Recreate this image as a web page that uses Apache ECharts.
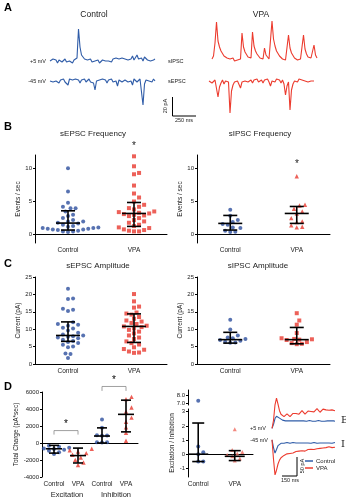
<!DOCTYPE html>
<html><head><meta charset="utf-8">
<script src="https://cdn.jsdelivr.net/npm/echarts@6/dist/echarts.min.js"></script>
<style>html,body{margin:0;padding:0;background:#fff}#c{width:346px;height:500px}</style>
</head><body><div id="c"></div>
<script>
// ---------- DATA ----------
const groups = ['Control', 'VPA'];
const chargeCats = ['Control', 'VPA', 'Control', 'VPA'];
const groupNames = ['Excitation', 'Inhibition'];
// Panel A traces (pA, 15 ms sampling)
const traceStepA = 15;
const ctrlIPSC = [0,-1,2,0,1,-2,1,3,-1,0,2,-1,1,0,2,-2,1,0,3,32,14,6,4,2,3,1,0,2,-1,1,0,-1,1,-2,0,1,-1,0,2,0,1,-1,2,0,3,1,2,0,3,1,2,4,1,3,2,5,1,3,6,2,1,3,0,4,2,1,3,0,2,1,2];
const ctrlEPSC = [0,2,-1,1,0,2,-2,1,0,2,-1,1,-4,2,0,1,-1,2,0,1,-2,1,0,2,-1,0,2,-1,1,-2,-9,0,2,1,-1,2,0,1,-2,1,0,2,-1,1,0,-5,1,2,-1,0,1,2,-1,1,0,-4,2,1,-1,0,2,1,-24,-3,1,2,0,1,-1,2,0];
const vpaIPSC = [2,5,18,39,20,14,10,8,5,6,3,4,2,1,3,0,2,1,-1,2,28,14,9,7,4,5,3,29,15,10,7,5,3,4,2,13,6,4,2,3,40,22,15,10,8,5,4,2,3,1,2,26,13,8,6,3,4,1,0,2,1,26,12,7,4,2,3,1,16,6,3];
const vpaEPSC = [0,1,-2,-4,1,-1,-16,-6,-2,1,-3,0,2,-1,-32,-10,-4,-1,1,0,-2,-7,-1,1,0,2,-1,0,1,-2,1,0,2,-1,0,1,-2,1,0,2,-1,-5,0,1,-1,2,0,1,-2,1,-3,-14,-5,-1,-29,-9,-3,0,1,-1,2,0,1,-1,0,2,-1,1,0,1,0];
// Panel B
const sepscFreqCtrl = [10.0,6.5,4.8,4.2,4.0,4.0,3.5,3.0,2.8,2.5,2.2,2.0,2.0,1.8,1.7,1.5,1.3,1.2,1.1,1.0,1.0,0.9,0.9,0.8,0.8,0.7,0.6,0.5,0.5,0.4];
const sepscFreqVpa = [11.8,10.3,9.3,9.1,7.4,6.2,5.6,5.0,4.5,4.2,4.0,3.8,3.5,3.4,3.3,3.2,3.1,3.0,2.9,2.8,2.5,2.2,2.0,1.8,1.5,1.3,1.1,1.0,0.8,0.7,0.6,0.5,0.5];
const sepscFreqStats = [[1.75,0.7,3.6],[3.2,1.25,4.85]];
const sipscFreqCtrl = [3.75,2.85,2.2,1.9,1.6,1.5,1.1,1.0,0.6,0.45,0.4];
const sipscFreqVpa = [8.8,4.5,4.4,3.9,3.5,3.2,2.5,2.0,1.9,1.4,1.2,1.1];
const sipscFreqStats = [[1.7,0.7,2.9],[3.2,1.7,4.25]];
// Panel C
const sepscAmpCtrl = [21.6,18.8,18.7,15.9,15.6,15.2,12.0,11.5,11.3,11.0,10.4,10.2,9.6,9.0,8.5,8.2,8.0,7.8,7.6,7.4,7.0,6.6,6.3,6.0,5.5,5.0,4.8,3.0,2.9,1.7];
const sepscAmpVpa = [20.1,18.0,16.5,16.2,14.8,14.5,14.2,13.5,13.0,12.5,12.2,11.8,11.5,11.0,10.8,10.6,10.2,9.8,9.3,8.8,8.2,7.6,7.2,6.5,6.0,5.6,4.8,4.3,4.1,3.6,3.3,3.2];
const sepscAmpStats = [[8.2,6.5,12.1],[10.8,6.2,14.4]];
const sipscAmpCtrl = [12.7,9.9,8.2,7.6,7.4,7.2,6.9,6.7,6.4,6.2,6.1];
const sipscAmpVpa = [14.6,12.5,11.3,8.9,7.4,7.2,7.1,7.0,6.9,6.3,6.0,5.8,5.7];
const sipscAmpStats = [[7.0,6.0,9.1],[7.0,5.8,10.5]];
// Panel D
const excCtrl = [-320,-450,-550,-650,-700,-800,-900,-1100,-1300];
const excVpa = [-680,-850,-1000,-1190,-1390,-1710,-1990,-2300,-2580];
const inhCtrl = [2770,1780,870,900,850,80,60,90];
const inhVpa = [5430,5160,4170,3690,2980,2500,1860,1190,270];
const chargeStats = [[-680,-1190,-280],[-1480,-2350,-600],[820,0,1780],[3370,1310,5040]];
const eiCtrlHigh = [7.3];
const eiCtrl = [0.54,0.14,0.0,-0.52,-0.52];
const eiVpa = [1.76,0.3,0.15,0.05,-0.05,-0.15,-0.3,-0.45];
const eiStats = [[0.0,-0.52,2.2],[-0.15,-0.45,0.25]];
// Panel D traces (pA, 15 ms sampling)
const traceStepD = 15;
const eVpa = [0,20,60,77,62,45,36,32,30,33,37,34,30,32,38,42,38,34,36,41,45,40,36,39,44,48,43,39,42,47,50,45,41,44,49,52,47,43,46,50,47,44,45];
const eCtrl = [0,10,25,31,29,26,23,21,20,19,20,19,18,19,20,19,18,19,18,19,20,19,18,18,19,20,19,18,19,18,19,20,19,18,19,18,19,19,18,19,20,19,18];
const iVpa = [0,-50,-90,-78,-62,-52,-46,-42,-40,-38,-36,-37,-35,-33,-34,-32,-30,-31,-29,-30,-28,-27,-29,-26,-25,-27,-24,-23,-25,-22,-23,-21,-22,-20,-21,-19,-20,-21,-18,-19,-20,-18,-19];
const iCtrl = [0,-20,-34,-25,-15,-11,-9,-8,-9,-8,-7,-8,-9,-8,-7,-8,-8,-9,-8,-7,-8,-9,-8,-7,-8,-8,-9,-8,-7,-8,-9,-8,-8,-7,-8,-9,-8,-7,-8,-8,-9,-8,-7];

// ---------- STYLE ----------
const FONT = 'Liberation Sans, Arial, sans-serif';
const BLUE = '#2d4f9e', RED = '#e8392f', TBLUE = '#2f5ca8', TRED = '#ec3b2e';
const TXT = '#222';

const chart = echarts.init(document.getElementById('c'), null, {renderer: 'canvas'});

function swarm(vals, pxPerUnit, d) {
  const placed = [], offs = new Array(vals.length);
  const order = vals.map((v, i) => i).sort((a, b) => vals[a] - vals[b]);
  for (const i of order) {
    const y = vals[i] * pxPerUnit;
    let best = 0;
    for (let k = 0; k < 60; k++) {
      const cand = k === 0 ? 0 : (k % 2 ? 1 : -1) * Math.ceil(k / 2) * d * 0.55;
      if (placed.every(p => Math.hypot(p.x - cand, p.y - y) >= d * 1.05)) { best = cand; break; }
    }
    placed.push({x: best, y}); offs[i] = best;
  }
  return offs;
}
function scatterSeries(vals, cat, grid, pxPerUnit, symbol, size, color, yIdx) {
  const offs = swarm(vals, pxPerUnit, size + 0.6);
  return {
    type: 'scatter', xAxisIndex: grid, yAxisIndex: yIdx === undefined ? grid : yIdx,
    symbol, symbolSize: size, itemStyle: {color}, silent: true, z: 2,
    data: vals.map((v, i) => ({value: [cat, v], symbolOffset: [offs[i], 0]}))
  };
}
function errSeries(stats, grid, cats, w, cw, yIdx) {
  return {
    type: 'custom', xAxisIndex: grid, yAxisIndex: yIdx === undefined ? grid : yIdx, z: 5, silent: true,
    data: stats.map((s, i) => [cats[i], s[0], s[1], s[2]]),
    renderItem(params, api) {
      const c = api.coord([api.value(0), api.value(1)]);
      const lo = api.coord([api.value(0), api.value(2)]);
      const hi = api.coord([api.value(0), api.value(3)]);
      const st = {stroke: '#000', lineWidth: 1.6};
      return {type: 'group', children: [
        {type: 'line', shape: {x1: c[0], y1: lo[1], x2: c[0], y2: hi[1]}, style: st},
        {type: 'line', shape: {x1: c[0] - w, y1: c[1], x2: c[0] + w, y2: c[1]}, style: st},
        {type: 'line', shape: {x1: c[0] - cw, y1: lo[1], x2: c[0] + cw, y2: lo[1]}, style: st},
        {type: 'line', shape: {x1: c[0] - cw, y1: hi[1], x2: c[0] + cw, y2: hi[1]}, style: st}
      ]};
    }
  };
}
function traceSeries(vals, step, grid, color, name) {
  return {type: 'line', name, xAxisIndex: grid, yAxisIndex: grid, showSymbol: false, silent: true,
    lineStyle: {color, width: 1.1}, itemStyle: {color}, animation: false,
    data: vals.map((v, i) => [i * step, v])};
}

const axLine = {lineStyle: {color: '#000', width: 1}};
const lbl = {fontSize: 6, color: TXT, fontFamily: FONT, margin: 3};
function catX(grid) {
  return {type: 'category', gridIndex: grid, data: groups, axisLine: axLine,
    axisTick: {alignWithLabel: true, length: 2, lineStyle: {color: '#000'}},
    axisLabel: Object.assign({}, lbl, {fontSize: 6.5, margin: 4, interval: 0})};
}
function valY(grid, min, max, ticks, name, gap, fmt) {
  return {type: 'value', gridIndex: grid, min, max, splitLine: {show: false},
    axisLine: {show: true, lineStyle: {color: '#000', width: 1}},
    axisTick: {show: true, length: 2, customValues: ticks, lineStyle: {color: '#000'}},
    axisLabel: Object.assign({}, lbl, {customValues: ticks, formatter: fmt || (v => String(v))}),
    name, nameLocation: 'middle', nameGap: gap || 14,
    nameTextStyle: {fontSize: 6.5, color: TXT, fontFamily: FONT}};
}
function hidX(grid, max) { return {type: 'value', gridIndex: grid, min: 0, max, show: false}; }
function hidY(grid, min, max) { return {type: 'value', gridIndex: grid, min, max, show: false}; }

const grids = [
  {left: 50, top: 20, width: 105, height: 50},   // 0 A ctrl IPSC
  {left: 50, top: 70, width: 105, height: 45},   // 1 A ctrl EPSC
  {left: 212, top: 20, width: 106, height: 50},  // 2 A vpa IPSC
  {left: 209, top: 70, width: 106, height: 45},  // 3 A vpa EPSC
  {left: 35, top: 155, width: 132, height: 88},  // 4 B left
  {left: 197, top: 155, width: 133, height: 88}, // 5 B right
  {left: 35, top: 277, width: 132, height: 87},  // 6 C left
  {left: 197, top: 277, width: 133, height: 87}, // 7 C right
  {left: 42, top: 392, width: 96, height: 85},   // 8 D left
  {left: 188, top: 390, width: 65, height: 15},  // 9 D mid upper
  {left: 188, top: 409, width: 65, height: 68},  // 10 D mid lower
  {left: 272, top: 395, width: 63, height: 40},  // 11 D E traces
  {left: 272, top: 432, width: 63, height: 48}   // 12 D I traces
];

const xAxes = [
  hidX(0, 1050), hidX(1, 1050), hidX(2, 1060), hidX(3, 1060),
  catX(4), catX(5), catX(6), catX(7),
  Object.assign(catX(8), {data: chargeCats}),
  {type: 'value', gridIndex: 9, min: 0.72, max: 2.5, show: false},
  {type: 'value', gridIndex: 10, min: 0.72, max: 2.5, splitLine: {show: false}, axisLine: axLine,
    axisTick: {show: true, length: 2, customValues: [1, 2], lineStyle: {color: '#000'}},
    axisLabel: Object.assign({}, lbl, {fontSize: 6.5, margin: 4, customValues: [1, 2], formatter: v => groups[Math.round(v) - 1]})},
  hidX(11, 630), hidX(12, 630)
];
const yAxes = [
  hidY(0, -9, 41), hidY(1, -34, 11), hidY(2, -9, 41), hidY(3, -34, 11),
  valY(4, -1.25, 12, [0, 5, 10], 'Events / sec', 13),
  valY(5, -1.25, 12, [0, 5, 10], 'Events / sec', 13),
  valY(6, 0, 25, [0, 5, 10, 15, 20, 25], 'Current (pA)', 13),
  valY(7, 0, 25, [0, 5, 10, 15, 20, 25], 'Current (pA)', 13),
  valY(8, -4000, 6000, [-4000, -2000, 0, 2000, 4000, 6000], 'Total Charge (pA*sec)', 22),
  valY(9, 6.8, 8.6, [7, 8, 8.5], '', 10, v => v.toFixed(1)),
  valY(10, -1.61, 3.19, [-1, 0, 1, 2, 3], 'Excitation / Inhibition', 11),
  hidY(11, -17, 85), hidY(12, -103, 20)
];

const pB = 88 / 13.25, pC = 87 / 25, pD = 85 / 10000, pE = 68 / 4.8;
const SZ = 4;
const series = [
  traceSeries(ctrlIPSC, traceStepA, 0, TBLUE, 'a1'),
  traceSeries(ctrlEPSC, traceStepA, 1, TBLUE, 'a2'),
  traceSeries(vpaIPSC, traceStepA, 2, TRED, 'a3'),
  traceSeries(vpaEPSC, traceStepA, 3, TRED, 'a4'),
  scatterSeries(sepscFreqCtrl, 0, 4, pB, 'circle', SZ, BLUE),
  scatterSeries(sepscFreqVpa, 1, 4, pB, 'rect', SZ, RED),
  errSeries(sepscFreqStats, 4, [0, 1], 12, 7),
  scatterSeries(sipscFreqCtrl, 0, 5, pB, 'circle', SZ, BLUE),
  scatterSeries(sipscFreqVpa, 1, 5, pB, 'triangle', 4.4, RED),
  errSeries(sipscFreqStats, 5, [0, 1], 12, 7),
  scatterSeries(sepscAmpCtrl, 0, 6, pC, 'circle', SZ, BLUE),
  scatterSeries(sepscAmpVpa, 1, 6, pC, 'rect', SZ, RED),
  errSeries(sepscAmpStats, 6, [0, 1], 12, 7),
  scatterSeries(sipscAmpCtrl, 0, 7, pC, 'circle', SZ, BLUE),
  scatterSeries(sipscAmpVpa, 1, 7, pC, 'rect', SZ, RED),
  errSeries(sipscAmpStats, 7, [0, 1], 12, 7),
  scatterSeries(excCtrl, 0, 8, pD, 'circle', SZ, BLUE),
  scatterSeries(excVpa, 1, 8, pD, 'triangle', 4.4, RED),
  scatterSeries(inhCtrl, 2, 8, pD, 'circle', SZ, BLUE),
  scatterSeries(inhVpa, 3, 8, pD, 'triangle', 4.4, RED),
  errSeries(chargeStats, 8, [0, 1, 2, 3], 8, 5),
  {
    type: 'custom', xAxisIndex: 8, yAxisIndex: 8, clip: false, silent: true, z: 6,
    data: [[0, 1, 1460, 990], [2, 3, 6650, 6130]],
    renderItem(params, api) {
      const a = api.coord([api.value(0), api.value(2)]);
      const b = api.coord([api.value(1), api.value(2)]);
      const d = api.coord([api.value(0), api.value(3)]);
      const st = {stroke: '#888', lineWidth: 0.8};
      return {type: 'group', children: [
        {type: 'line', shape: {x1: a[0], y1: a[1], x2: b[0], y2: b[1]}, style: st},
        {type: 'line', shape: {x1: a[0], y1: a[1], x2: a[0], y2: d[1]}, style: st},
        {type: 'line', shape: {x1: b[0], y1: b[1], x2: b[0], y2: d[1]}, style: st},
        {type: 'text', style: {text: '*', x: (a[0] + b[0]) / 2, y: a[1] - 1, fill: '#000', font: '10px ' + FONT, textAlign: 'center', textVerticalAlign: 'bottom'}}
      ]};
    }
  },
  scatterSeries(eiCtrlHigh, 1, 9, 15 / 1.8, 'circle', SZ, BLUE),
  scatterSeries(eiCtrl, 1, 10, pE, 'circle', SZ, BLUE),
  scatterSeries(eiVpa, 2, 10, pE, 'triangle', 4, '#f06a5f'),
  errSeries(eiStats, 10, [1, 2], 10, 6),
  traceSeries(eCtrl, traceStepD, 11, TBLUE, 'Control'),
  traceSeries(eVpa, traceStepD, 11, TRED, 'VPA'),
  traceSeries(iCtrl, traceStepD, 12, TBLUE, 'Control'),
  traceSeries(iVpa, traceStepD, 12, TRED, 'VPA')
];

function T(text, x, y, size, opts) {
  opts = opts || {};
  return {type: 'text', x, y, rotation: opts.rot || 0, silent: true, z: 10,
    style: {text, x: 0, y: 0, fill: opts.color || TXT, font: (opts.bold ? 'bold ' : '') + size + 'px ' + (opts.family || FONT),
      textAlign: opts.align || 'center', textVerticalAlign: 'middle'}};
}
function L(x1, y1, x2, y2) {
  return {type: 'line', silent: true, shape: {x1, y1, x2, y2}, style: {stroke: '#000', lineWidth: 1}};
}
const graphic = [
  T('A', 4, 8, 11, {bold: true, align: 'left', color: '#000'}),
  T('Control', 94, 15, 8.5), T('VPA', 261, 15, 8.5),
  T('+5 mV', 46, 61, 5.5, {align: 'right'}), T('-45 mV', 46, 81, 5.5, {align: 'right'}),
  T('sIPSC', 168, 61, 5.5, {align: 'left'}), T('sEPSC', 168, 81, 5.5, {align: 'left'}),
  L(172.5, 97, 172.5, 116), L(172.5, 116, 196, 116),
  T('20 pA', 165, 106, 5.5, {rot: Math.PI / 2}), T('250 ms', 184, 120, 5.5),
  T('B', 4, 127, 11, {bold: true, align: 'left', color: '#000'}),
  T('sEPSC Frequency', 93, 134, 8), T('sIPSC Frequency', 260, 134, 8),
  T('*', 134, 146, 10), T('*', 297, 164, 10),
  T('C', 4, 264, 11, {bold: true, align: 'left', color: '#000'}),
  T('sEPSC Amplitude', 98, 266, 8), T('sIPSC Amplitude', 258, 266, 8),
  T('D', 4, 387, 11, {bold: true, align: 'left', color: '#000'}),
  T(groupNames[0], 67, 495, 7.5), T(groupNames[1], 116, 495, 7.5),
  T('+5 mV', 266, 428, 5.5, {align: 'right'}), T('-45 mV', 268, 440, 5.5, {align: 'right'}),
  T('E', 341, 420, 10, {family: 'DejaVu Serif, Liberation Serif, serif', align: 'left'}),
  T('I', 341, 444, 10, {family: 'DejaVu Serif, Liberation Serif, serif', align: 'left'}),
  L(297, 457, 297, 476), L(282, 476, 297, 476),
  T('50 pA', 302, 466, 5.5, {rot: Math.PI / 2}), T('150 ms', 290, 480, 5.5)
];

chart.setOption({
  animation: false,
  textStyle: {fontFamily: FONT},
  grid: grids, xAxis: xAxes, yAxis: yAxes, series, graphic,
  legend: {data: ['Control', 'VPA'], orient: 'vertical', left: 305, top: 458, itemWidth: 8, itemHeight: 1.5,
    itemGap: 1, icon: 'rect', selectedMode: false, padding: 0,
    textStyle: {fontSize: 6, color: TXT, fontFamily: FONT, padding: [0, 0, 0, -2]}}
});
</script></body></html>
